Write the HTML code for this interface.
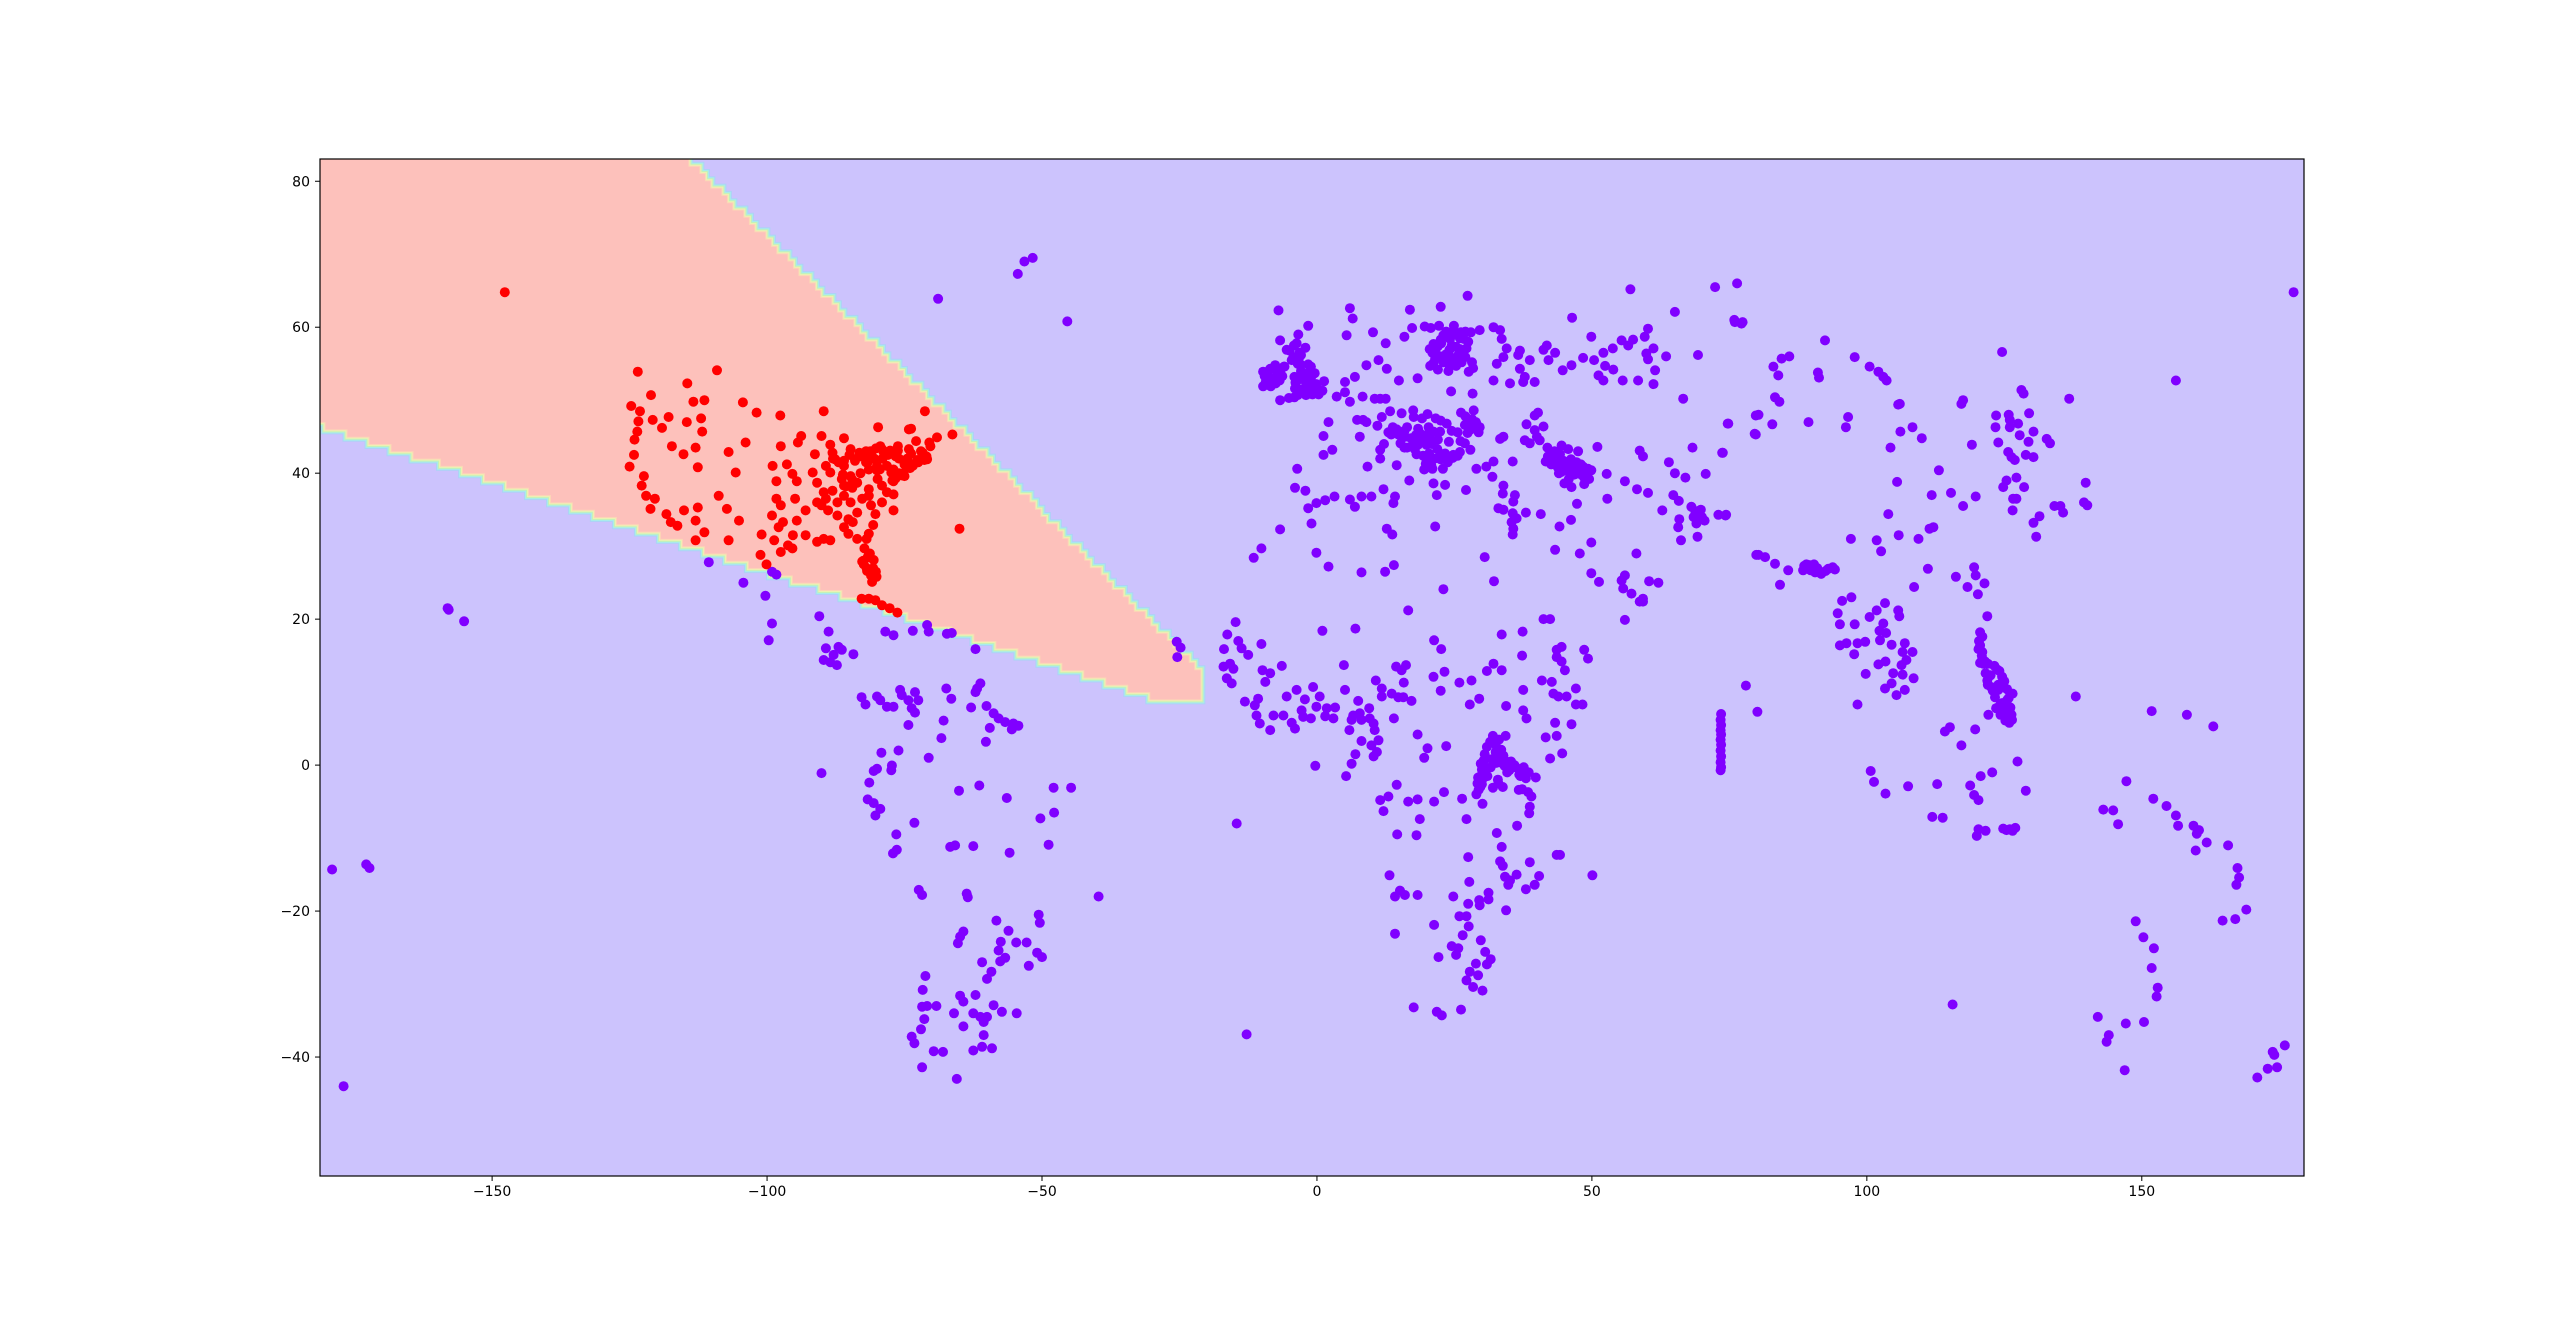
<!DOCTYPE html>
<html><head><meta charset="utf-8"><title>Decision boundary scatter</title>
<style>
html,body{margin:0;padding:0;background:#fff;}
svg{display:block;}
text{font-family:"DejaVu Sans","Liberation Sans",sans-serif;font-size:14px;fill:#000;}
</style></head>
<body>
<svg id="chart" width="2560" height="1321" viewBox="0 0 2560 1321" xmlns="http://www.w3.org/2000/svg">
<defs><clipPath id="axclip"><rect x="320" y="159" width="1984" height="1017"/></clipPath></defs>
<rect x="0" y="0" width="2560" height="1321" fill="#ffffff"/>
<g id="plot" clip-path="url(#axclip)">
<rect x="320" y="159" width="1984" height="1017" fill="#ccc3fd"/>
</g>
<rect x="320" y="159" width="1984" height="1017" fill="none" stroke="#000" stroke-width="1.2"/>
<g id="xticks"></g>
<g id="yticks"></g>
</svg>
<script>
// ---- data ----
const xTicks=[-150,-100,-50,0,50,100,150];
const yTicks=[-40,-20,0,20,40,60,80];
const xDomain=[-181.3,179.5];
const yDomain=[-56.3,83.05];
const upperBoundary=[[-114.0,83.1],[-21.2,13.2]];
const lowerBoundary=[[-181.3,46.3],[-27.0,8.3]];
const regionRightLon=-21.2;
const regionFloorLat=8.3;
const redPts=[[-147.7,64.8],
[-123.5,53.9],[-109.1,54.1],[-114.5,52.3],[-121.1,50.7],[-124.7,49.2],[-113.4,49.8],[-111.4,50.0],[-104.4,49.7],[-101.9,48.3],[-97.6,47.9],[-89.7,48.5],[-71.3,48.5],[-79.8,46.3],[-74.2,46.0],[-69.1,44.9],[-66.3,45.3],
[-123.1,48.5],[-123.4,47.1],[-123.6,45.7],[-124.1,44.6],[-124.2,42.5],[-125.0,40.9],[-120.8,47.3],[-117.9,47.7],[-119.1,46.2],[-114.6,47.0],[-112.0,47.5],[-111.8,45.7],[-117.3,43.7],[-115.2,42.6],[-113.0,43.5],[-112.6,40.8],[-107.0,42.9],[-103.9,44.2],[-105.7,40.1],
[-122.4,39.6],[-122.8,38.3],[-122.0,36.9],[-120.4,36.5],[-121.2,35.1],[-118.3,34.4],[-117.5,33.3],[-116.3,32.8],[-115.1,34.9],[-112.6,35.3],[-113.0,33.5],[-111.4,31.9],[-113.0,30.8],[-108.8,36.9],[-107.3,35.1],[-105.1,33.5],[-107.0,30.8],[-101.0,31.6],[-101.2,28.8],[-100.1,27.5],
[-97.5,43.7],[-99.0,41.0],[-96.4,41.2],[-95.4,39.9],[-98.3,38.9],[-94.6,38.9],[-93.8,45.1],[-94.4,44.2],[-91.3,42.6],[-91.7,40.1],[-90.9,38.7],[-89.7,37.4],[-98.3,36.5],[-97.5,35.6],[-94.9,36.5],[-99.1,34.2],[-97.1,33.3],[-97.9,32.6],[-94.6,33.5],[-93.0,34.9],[-90.9,36.0],[-98.7,30.8],[-96.2,30.1],[-97.5,29.2],[-95.4,29.7],[-93.0,31.5],[-90.9,30.6],[-89.7,31.0],[-88.5,30.8],[-95.3,31.5],
[-90.1,45.1],[-86.0,44.8],[-88.5,43.9],[-88.1,42.8],[-89.3,41.0],[-88.5,40.1],[-86.0,41.0],[-84.8,43.3],[-84.0,41.9],[-83.2,42.8],[-81.5,41.9],[-81.5,40.5],[-79.1,43.3],[-79.5,40.5],[-78.2,41.0],[-76.6,42.3],[-76.2,43.7],[-74.2,43.3],[-72.9,44.4],[-70.5,44.2],[-71.7,42.8],[-70.9,41.9],[-74.2,41.4],[-75.0,39.6],[-77.4,40.1],[-79.9,39.2],[-77.0,38.9],[-79.1,38.3],[-78.2,37.4],[-77.0,37.1],[-81.5,37.8],[-83.6,38.7],[-84.8,39.6],[-86.4,39.2],[-86.0,38.3],[-88.1,37.6],[-89.3,36.5],[-87.2,36.0],[-86.0,36.9],[-84.8,36.0],[-82.7,36.5],[-81.5,36.9],[-83.6,34.6],[-81.1,35.6],[-80.3,34.4],[-79.1,36.0],[-77.0,34.9],[-90.1,35.6],[-88.9,34.9],[-87.2,34.2],[-85.2,33.7],[-84.4,33.3],[-86.0,32.6],[-85.2,31.7],[-83.6,31.0],[-80.7,32.9],[-81.5,31.7],[-81.9,31.0],[-82.3,29.7],[-81.5,28.8],[-82.7,27.9],[-81.9,27.0],[-81.1,26.0],[-80.7,27.0],[-73.8,46.1],[-65.0,32.4],
[-85,42.5],[-83,42.3],[-82,41.5],[-80,41],[-77,40.5],[-76,40],[-75.2,40],[-74,40.7],[-73.5,41],[-72.5,41.5],[-71,42.3],[-80,40.4],[-84.5,39.1],[-86.2,39.8],[-87.6,41.9],[-88,42],[-83,40],[-84,41.7],[-78.8,42.9],[-77.6,43.1],[-79.4,43.7],[-81,42.5],[-82,43],[-86,41.7],[-87,41.5],[-73.8,42.7],[-75.5,39.7],[-76.6,39.3],[-77.2,39],[-71.4,41.8],[-72.7,41.8],[-85.7,38.2],[-84.5,38],[-81.7,41.5],[-80.5,42],[-79,42],[-78,42.5],[-76,42],[-75,41.2],[-74.5,42],[-70.3,43.7],[-72,43],[-76.2,43.1],[-80.2,43.4],[-81.2,43],
[-82.5,28],[-81.7,28.5],[-81.3,29],[-80.2,26.5],[-80.1,25.8],[-80.3,26.2],[-81.8,26.6],[-81.4,28.5],[-82.4,27.5],[-80.6,28.1],
[-82.8,22.8],[-81.5,22.8],[-80.3,22.6],[-79.1,21.9],[-77.7,21.5],[-76.3,20.9],[-80.9,25.1]];
const purplePts=[[-157.9,21.3],[-158.1,21.5],[-155.1,19.7],[-179.1,-14.3],[-172.9,-13.6],[-172.3,-14.1],[-177,-44],[177.6,64.8],[-45.4,60.8],[-53.2,69.0],[-51.7,69.5],[-54.4,67.3],[-68.9,63.9],[-110.6,27.8],[-104.3,25.0],[-100.3,23.2],[-99.1,26.5],[-98.3,26.1],[-99.7,17.1],[-99.1,19.4],[-14.6,-8.0],[-12.8,-36.9],[-25.5,16.9],[-25.4,14.8],[-24.8,16.1],
[-90.5,20.4],[-88.8,18.3],[-89.3,16.0],[-87.0,16.2],[-86.4,15.8],[-87.9,15.1],[-89.7,14.4],[-88.5,14.1],[-87.3,13.7],[-84.3,15.2],[-78.5,18.3],[-77.0,17.8],[-73.5,18.4],[-70.9,19.2],[-70.6,18.3],[-67.3,18.0],[-66.4,18.1],[-62.1,15.9],[-82.8,9.3],[-82.1,8.3],[-80.0,9.4],[-79.4,8.9],[-78.2,8.0],[-77.0,8.0],[-75.8,10.3],[-75.5,9.6],[-74.3,8.9],[-73.1,10.0],[-72.5,8.9],[-73.7,7.8],[-73.1,7.2],[-74.3,5.5],[-67.4,10.5],[-66.5,9.1],[-61.8,10.5],[-61.2,11.2],[-62.1,10.0],[-62.9,7.9],[-60.1,8.1],[-58.8,7.1],[-57.9,6.4],[-56.7,5.9],[-55.2,5.7],[-54.3,5.4],[-55.5,4.9],[-59.5,5.1],[-60.2,3.2],[-67.9,6.1],[-68.3,3.7],[-70.6,1.0],[-79.2,1.7],[-76.1,2.0],[-80.0,-0.5],[-80.6,-0.8],[-77.3,-0.05],[-77.4,-0.7],[-81.4,-2.4],[-90.1,-1.1],[-81.7,-4.7],[-80.6,-5.2],[-79.4,-6.0],[-80.3,-6.9],[-73.2,-7.9],[-76.5,-9.5],[-76.4,-11.6],[-77.1,-12.1],[-66.7,-11.2],[-65.8,-11.0],[-62.5,-11.1],[-55.9,-12.0],[-65.1,-3.5],[-61.4,-2.8],[-56.4,-4.5],[-47.9,-3.1],[-44.7,-3.1],[-50.3,-7.3],[-47.8,-6.5],[-48.8,-10.9],[-39.7,-18.0],[-72.4,-17.1],[-71.8,-17.8],[-63.7,-17.6],[-63.5,-18.1],[-58.3,-21.3],[-50.6,-20.5],[-50.4,-21.6],[-56.1,-22.7],[-64.3,-22.8],[-64.9,-23.5],[-65.3,-24.4],[-57.5,-24.2],[-54.7,-24.3],[-52.8,-24.3],[-57.9,-25.4],[-56.7,-26.4],[-57.6,-26.9],[-50.9,-25.7],[-50.0,-26.3],[-52.4,-27.5],[-60.9,-27.0],[-59.2,-28.3],[-60.0,-29.3],[-71.2,-28.9],[-71.7,-30.8],[-71.8,-33.1],[-70.9,-33.0],[-69.2,-33.0],[-71.4,-34.8],[-72.0,-36.2],[-73.7,-37.2],[-73.2,-38.1],[-64.9,-31.6],[-62.1,-31.5],[-64.3,-32.4],[-66.0,-34.0],[-62.5,-34.0],[-61.2,-34.5],[-60.0,-34.5],[-60.6,-35.2],[-58.8,-32.9],[-57.3,-33.8],[-54.6,-34.0],[-64.3,-35.8],[-60.6,-37.0],[-60.9,-38.6],[-59.1,-38.8],[-62.5,-39.1],[-69.7,-39.2],[-68.0,-39.3],[-71.8,-41.4],[-65.5,-43.0],
[-14.8,19.6],[-16.3,17.9],[-16.9,15.9],[-14.3,17.0],[-13.7,16.0],[-12.5,15.1],[-10.1,16.6],[-17.0,13.5],[-15.8,13.9],[-15.2,13.2],[-16.4,11.9],[-15.5,11.2],[-9.9,13.0],[-8.5,12.6],[-9.4,11.4],[-6.4,13.6],[-13.1,8.7],[-10.7,9.1],[-11.3,8.2],[-11.0,6.8],[-10.4,5.7],[-8.5,4.8],[-7.9,6.8],[-6.1,6.8],[-4.6,5.8],[-4.0,5.0],[-5.5,9.4],[-3.7,10.3],[-2.2,9.0],[-0.7,10.7],[0.5,9.4],[-0.1,8.0],[-2.8,7.5],[-2.5,6.6],[-1.1,6.4],[1.8,7.8],[3.3,7.9],[1.5,6.7],[3.0,6.4],[1.0,18.4],[7.0,18.7],[4.9,13.7],[5.1,10.3],[7.5,8.8],[9.5,7.8],[6.6,6.8],[7.8,7.1],[6.3,6.2],[8.1,6.2],[5.9,4.8],[9.6,6.4],[10.3,5.7],[10.5,4.8],[11.2,3.4],[9.9,2.7],[10.9,1.8],[10.3,1.2],[8.1,3.3],[7.0,1.5],[6.3,0.2],[5.3,-1.5],[-0.3,-0.1],[10.7,11.6],[11.8,10.5],[11.8,9.4],[13.6,9.8],[14.8,9.3],[15.7,9.3],[17.2,8.8],[14.4,13.5],[15.4,13.0],[16.2,13.7],[15.8,11.3],[14.0,6.4],[16.6,21.2],[21.3,17.1],[22.6,15.9],[21.2,12.1],[23.2,12.8],[22.5,10.2],[18.3,4.2],[20.1,2.3],[19.5,1.0],[23.5,2.6],[25.9,11.3],[28.1,11.6],[27.8,8.3],[29.5,9.1],[30.9,12.9],[32.1,13.9],[33.6,13.0],[33.6,17.9],[37.4,18.3],[37.3,15.0],[41.2,20.0],[42.4,20.0],[56.0,19.9],[58.7,22.4],[59.3,22.4],[37.5,10.3],[37.5,7.5],[38.1,6.4],[34.4,8.1],[40.9,11.6],[42.7,11.4],[43.6,15.8],[44.5,16.2],[43.6,14.8],[44.5,14.2],[45.1,13.0],[48.6,15.8],[49.3,14.6],[43.0,9.8],[43.9,9.4],[45.4,9.4],[47.1,10.5],[47.1,8.3],[48.3,8.3],[43.3,5.8],[46.3,5.6],[41.6,3.8],[43.6,4.0],[42.4,0.9],[44.6,1.6],
[39.8,-1.7],[38.4,-3.7],[39.0,-4.3],[38.7,-5.7],[38.6,-6.6],[32.0,-3.1],[33.8,-3.0],[30.1,-5.3],[36.4,-8.3],[32.7,-9.3],[33.6,-11.2],[27.2,-7.4],[26.4,-4.6],[23.1,-3.7],[21.3,-5.0],[18.3,-4.7],[16.6,-5.0],[14.5,-2.7],[13.0,-4.3],[11.5,-4.8],[12.1,-6.3],[18.7,-7.4],[14.6,-9.5],[18.1,-9.6],[27.5,-12.6],[33.3,-13.2],[33.8,-13.8],[38.7,-13.3],[43.6,-12.3],[44.2,-12.3],[50.1,-15.1],[40.4,-15.2],[39.6,-16.4],[38.0,-17.0],[34.2,-15.3],[35.1,-15.8],[36.3,-15.0],[34.8,-16.4],[27.7,-16.0],[13.2,-15.1],[15.1,-17.2],[16.0,-17.8],[14.2,-18.0],[18.3,-17.8],[24.8,-18.0],[27.5,-19.0],[29.5,-18.5],[29.6,-19.2],[31.2,-17.5],[31.2,-18.4],[34.4,-19.9],[25.9,-20.7],[27.2,-20.7],[27.6,-22.1],[26.5,-23.3],[21.3,-21.9],[14.2,-23.1],[29.8,-24.0],[24.5,-24.8],[25.7,-25.1],[25.3,-26.0],[22.1,-26.3],[30.6,-25.6],[31.6,-26.6],[30.9,-27.3],[28.9,-27.2],[27.8,-28.3],[29.3,-28.8],[27.2,-29.5],[28.4,-30.4],[30.1,-30.9],[17.6,-33.2],[21.8,-33.8],[22.7,-34.3],[26.2,-33.5],
[29.3,-1.7],[29.6,-1.9],[29.2,-2.5],[29.9,-1.4],[30.1,-1.9],[29.4,-3.4],[29.0,-4.0],[29.7,-3.0],[30.0,-0.6],[30.3,0.6],[30.5,1.5],[30.9,2.5],[31.5,3.2],[32.0,4.0],[32.5,3.5],[32.6,0.3],[32.3,0.4],[32.9,0.6],[33.2,0.4],[31.8,0.8],[32.5,1.8],[33.5,2.1],[33.9,1.3],[34.2,0.6],[34.8,0.2],[34.1,-0.1],[35.3,0.5],[35.9,0.0],[36.8,-1.3],[36.9,-1.1],[37.2,-0.5],[37.0,-1.5],[37.6,-0.3],[36.1,-0.3],[35.0,-0.7],[34.6,-1.0],[36.7,-3.4],[37.3,-3.3],[38.0,-1.8],[38.5,-1.0],[33.0,-2.5],[32.9,-2.0],[31.6,-0.3],[30.6,-0.3],[29.8,0.2],[30.0,-2.6],[31.0,-1.5],[32.5,2.8],[33.1,3.5],[34.3,4.0],
[-7.0,62.3],[-6.7,58.2],[-3.4,59.0],[-1.6,60.2],[-3.7,57.8],[-5.5,56.9],[-6.7,50.0],[-9.8,53.9],
[-9.5,53.3],[-9.0,53.9],[-8.5,54.3],[-8.0,53.0],[-7.5,52.3],[-8.5,52.0],[-9.3,52.5],[-6.3,53.3],[-6.8,52.7],[-7.6,54.8],[-6.0,54.6],[-7.2,53.6],[-9.8,51.9],[-8.4,51.9],[-6.6,54.2],
[-4.2,57.5],[-3.2,56.5],[-4.3,55.9],[-3.2,55.9],[-2.1,57.2],[-2.9,56.2],[-4.6,55.5],[-3.0,54.9],[-1.6,54.9],[-2.9,54.0],[-1.5,53.8],[-2.2,53.5],[-3.0,53.4],[-1.1,53.0],[-1.5,52.4],[-2.0,52.5],[-0.1,52.2],[1.3,52.6],[-0.1,51.5],[-0.5,51.3],[0.5,51.4],[1.0,51.3],[-1.3,51.7],[-2.6,51.5],[-3.2,51.5],[-4.0,51.6],[-1.4,50.9],[-2.0,50.7],[-3.5,50.7],[-4.1,50.4],[-5.1,50.3],[-0.8,50.8],[0.3,50.8],[-1.8,51.1],[-3.9,52.4],[-3.0,52.9],[-4.1,53.2],[-0.4,53.7],[-1.1,54.6],[-5.9,54.6],[-3.5,55.0],[-5.0,56.8],
[6.0,62.6],[6.5,61.2],[5.4,58.9],[10.2,59.3],[12.5,57.8],[16.9,62.4],[22.5,62.8],[27.4,64.3],[15.9,58.7],[17.3,59.9],[19.6,60.1],
[20.5,57.0],[21.0,56.5],[21.5,55.7],[22.0,57.4],[22.5,58.3],[23.0,58.9],[23.5,59.4],[24.7,59.4],[25.5,59.0],[26.7,58.4],[27.5,58.0],[26.0,58.5],[24.1,56.9],[24.5,57.5],[25.3,57.3],[26.5,56.5],[27.0,55.9],[25.3,54.7],[24.0,54.9],[23.9,54.0],[25.0,55.5],[22.5,56.0],[21.2,55.1],[23.5,56.3],[24.2,58.4],[26.0,57.0],[27.6,53.9],[28.2,55.2],[28.4,54.4],[20.6,54.7],[22.0,54.2],[26.3,55.2],[23.0,55.2],[25.7,56.2],[27.2,57.1],[24.5,55.8],[21.6,57.0],[22.6,57.8],[28.0,59.3],[27.0,59.4],[26.2,59.3],[20.7,59.9],[22.2,60.2],[24.9,60.2],[21.2,57.7],
[29.6,59.6],[32.1,60.0],[33.3,59.6],[33.6,58.4],[34.5,57.1],[33.9,55.9],[32.7,55.0],[32.1,52.7],[35.1,52.3],[36.9,56.8],[36.6,56.2],[38.7,55.5],[36.9,54.3],[37.8,53.2],[37.5,52.5],[39.6,52.5],[41.2,56.9],[41.8,57.5],[43.3,56.5],[42.1,55.5],[44.7,54.1],[46.3,54.8],[48.4,55.8],[49.9,58.7],[46.4,61.3],[50.4,55.5],[52.1,56.5],[53.8,57.1],[52.4,54.7],[53.9,54.2],[51.2,53.4],[52.1,52.7],[55.6,52.7],[55.4,58.2],[56.6,57.5],[57.5,58.3],[60.2,59.8],[59.6,58.7],[61.2,57.1],[59.9,56.4],[60.2,55.6],[58.4,52.7],[61.2,52.2],[61.5,54.1],[63.5,56.0],[65.1,62.1],[69.3,56.2],[57.0,65.2],[72.4,65.5],[76.4,66.0],[75.9,61.0],[77.4,60.7],[66.6,50.2],
[3.6,50.5],[5.1,51.1],[6.0,49.8],[6.9,53.2],[5.1,52.5],[9.0,54.8],[11.2,55.5],[12.7,54.3],[14.9,52.7],[18.3,53.0],[24.4,51.2],[28.3,50.9],[8.3,50.5],[10.5,50.2],[11.5,50.2],[12.5,50.2],[2.1,47.0],[1.2,45.1],[1.2,42.5],[2.8,43.2],[-3.6,40.6],[-4.0,38.0],[-2.1,37.6],[-6.7,32.3],[-10.1,29.7],[-11.5,28.4],[-0.1,29.1],[2.1,27.2],[8.1,26.4],[12.4,26.5],[14.0,27.4],[23.0,24.1],[32.2,25.2],[30.5,28.5],[-1.6,35.2],[-0.1,35.9],[1.5,36.3],[3.2,36.8],[-1.0,33.1],[6.0,36.4],[6.9,35.4],[8.1,36.8],[9.9,36.8],[12.1,37.8],[14.2,36.8],[13.9,35.9],[12.7,32.4],[13.7,31.6],[21.5,32.7],[9.2,40.9],[11.5,42.0],[14.5,41.1],[16.8,39.0],[21.2,38.6],[23.3,38.4],[21.8,37.0],[27.1,37.7],[7.8,45.0],[11.0,46.5],[11.5,43.2],[12.2,44.0],[7.3,47.3],[8.4,47.3],[9.0,47.0],[11.8,47.7],[13.3,48.5],[15.4,48.2],[17.5,48.6],[22.4,45.7],[26.9,44.1],[26.0,42.9],[24.8,42.5],
[13.0,45.6],[13.5,45.3],[14.5,46.0],[14.8,45.3],[15.9,45.8],[16.4,46.3],[15.2,44.1],[15.9,43.5],[16.4,43.5],[17.1,44.8],[18.4,43.9],[18.1,42.6],[18.7,45.5],[19.0,44.5],[19.3,42.4],[19.8,45.2],[20.5,44.8],[20.9,44.0],[21.4,42.0],[21.9,43.3],[22.3,42.3],[20.8,41.1],[19.8,41.3],[19.5,40.5],[20.2,41.7],[21.0,40.6],[22.9,40.6],[23.3,42.7],[24.7,42.1],[25.6,42.4],[23.8,41.5],[22.5,41.9],[20.4,42.7],[17.8,43.3],[19.9,43.9],[21.2,45.7],[22.0,44.6],[18.0,45.2],[17.5,44.3],[16.0,45.0],[19.1,47.5],[17.6,47.7],[21.6,47.5],[22.5,47.2],[23.6,46.8],[24.5,45.8],[26.1,44.4],[27.6,47.2],[28.9,47.0],[25.6,45.6],[24.0,44.3],[27.9,43.2],[13.8,46.3],[20.3,46.3],[18.4,46.1],[20.1,48.1],
[26.2,48.3],[27.0,47.8],[28.5,48.6],[29.0,46.8],[29.6,46.3],[28.0,46.0],[27.4,45.5],[26.9,46.6],[28.2,47.4],[29.4,45.6],
[33.3,44.7],[33.9,45.0],[32.1,41.6],[30.8,40.9],[29.0,40.6],[35.6,41.6],[31.9,39.5],[33.9,38.3],[33.8,37.2],[36.0,37.0],[35.7,36.1],[33.0,35.2],[33.9,35.0],[35.6,34.5],[36.3,33.8],[35.4,33.3],[35.7,32.4],[35.6,31.6],[38.0,34.6],[40.7,34.4],[38.1,46.7],[39.6,47.9],[40.2,48.3],[41.2,46.4],[39.6,45.9],[40.0,45.0],[37.8,44.5],[38.7,44.1],[40.5,44.5],
[41.6,41.6],[42.0,42.3],[42.7,42.2],[43.5,42.0],[44.8,41.7],[45.2,41.2],[44.5,40.2],[45.5,40.5],[46.4,40.7],[47.0,40.3],[47.5,40.6],[48.4,40.9],[49.9,40.4],[49.0,40.0],[48.5,39.5],[46.8,39.8],[45.8,39.2],[44.0,40.0],[43.8,40.8],[42.6,41.2],[46.2,41.9],[47.2,41.5],[48.0,41.2],[49.3,40.6],[45.0,38.6],[46.3,38.1],[44.2,42.6],[43.2,43.0],[45.7,43.3],[47.5,43.0],[41.9,43.5],[48.6,38.5],[49.5,39.2],[47.8,39.9],[44.8,40.9],[46.0,40.0],
[44.5,43.8],[51.0,43.6],[52.7,39.9],[47.3,35.8],[46.2,33.6],[44.1,32.7],[52.8,36.5],[49.9,30.5],[43.3,29.5],[47.8,29.0],[56.0,38.9],[58.2,37.8],[60.2,37.3],[58.7,43.1],[59.3,42.3],[64.0,41.5],[65.1,40.0],[67.0,39.4],[70.7,39.9],[68.3,43.5],[73.7,42.8],[74.7,46.8],[79.8,47.9],[79.6,45.4],[64.8,37.0],[65.8,36.2],[62.8,34.9],[65.9,33.7],[65.7,32.6],[66.2,30.8],[69.2,31.3],[68.1,35.4],[68.8,34.8],[69.3,34.5],[70.0,34.0],[70.5,33.5],[69.0,33.1],[68.5,34.0],[69.8,35.0],[73.0,34.3],[74.4,34.3],[79.9,28.8],[58.1,29.0],[49.9,26.3],[51.3,25.1],[55.4,25.3],[56.0,26.0],[55.7,24.2],[57.2,23.5],[59.3,22.8],[60.4,25.2],[62.1,25.0],
[76.0,60.7],[77.2,60.5],[92.4,58.2],[97.8,55.9],[100.5,54.6],[102.1,53.9],[103.0,53.2],[103.6,52.7],[83.0,54.6],[84.5,55.7],[85.9,56.0],[83.9,53.4],[91.1,53.8],[91.3,53.1],[83.3,50.4],[84.1,49.8],[80.3,48.0],[74.8,46.8],[73.8,42.8],[82.8,46.7],[79.8,45.3],[89.4,47.0],[96.6,47.7],[96.2,46.3],[106.0,49.5],[105.7,49.4],[106.1,45.7],[108.3,46.3],[110.0,44.8],[104.3,43.5],[117.5,50.0],[117.2,49.5],[124.6,56.6],[128.1,51.4],[128.5,50.9],[136.8,50.2],
[123.5,47.9],[123.4,46.3],[125.8,48.0],[126.0,47.3],[126.0,46.3],[127.5,46.8],[129.5,48.2],[127.8,45.2],[130.3,45.7],[129.4,44.3],[123.9,44.2],[132.7,44.7],[133.3,44.1],[125.7,42.9],[126.3,42.2],[128.9,42.5],[130.3,42.2],[126.9,41.8],
[119.1,43.9],[113.1,40.4],[105.5,38.8],[111.8,37.0],[115.3,37.3],[117.5,35.5],[119.8,36.8],[125.4,39.0],[124.8,38.1],[127.2,39.4],[128.6,38.1],[126.6,36.5],[127.2,36.5],[126.5,34.9],[130.3,33.2],[131.4,34.1],[130.8,31.3],[134.1,35.5],[135.7,34.6],[135.2,35.5],[139.8,38.7],[139.5,36.0],[140.1,35.6],
[103.9,34.4],[97.1,31.0],[101.8,30.8],[102.6,29.3],[105.8,31.5],[109.4,31.0],[111.4,32.4],[112.1,32.6],[111.1,26.9],[116.2,25.8],[118.3,24.4],[120.2,23.4],[119.5,27.1],[119.8,26.0],[121.4,24.9],[108.6,24.4],[121.9,20.4],[74.3,34.2],[80.3,28.8],[81.5,28.5],[83.3,27.6],[85.7,26.7],[84.2,24.7],
[88.6,27.3],[89.0,27.5],[89.6,27.4],[90.4,27.5],[90.0,26.9],[91.0,27.0],[91.7,26.2],[92.5,26.6],[93.0,26.9],[93.8,27.1],[94.2,26.8],[89.8,26.7],[90.6,26.4],[88.4,26.7],
[95.5,22.5],[97.2,23.0],[94.7,20.8],[95.1,19.3],[100.5,20.3],[101.8,21.2],[103.3,22.2],[105.7,21.2],[105.9,20.4],[97.8,19.3],[103.0,19.4],[102.3,18.4],[103.5,18.1],[95.1,16.4],[96.3,16.7],[98.3,16.7],[99.7,16.9],[97.7,15.2],[102.4,17.1],
[104.5,16.5],[106.9,16.7],[108.3,15.5],[106.5,15.5],[107.2,14.4],[106.3,13.7],[102.1,13.8],[103.4,14.2],[104.8,12.6],[106.5,12.4],[108.5,11.9],[106.9,10.3],[105.4,9.6],[103.3,10.5],[104.5,11.2],[99.8,12.5],
[78.0,10.9],[80.1,7.3],[98.3,8.3],[73.5,7.0],[73.4,6.2],[73.5,5.5],[73.4,4.8],[73.5,4.2],[73.4,3.5],[73.5,2.8],[73.4,2.0],[73.5,1.2],[73.4,0.4],[73.5,-0.3],[73.4,-0.7],
[120.6,18.2],[121.0,17.6],[120.4,17.0],[120.6,16.4],[120.3,15.9],[121.0,15.5],[120.9,15.0],[121.0,14.6],[121.1,14.4],[121.5,14.2],[121.2,13.9],[122.0,13.9],[123.2,13.6],[123.7,13.1],[124.1,12.9],[122.5,12.3],[121.9,11.6],[122.6,10.7],[123.9,10.3],[124.0,10.6],[124.8,11.2],[125.0,11.5],[124.6,12.1],[125.5,10.4],[123.3,9.3],[122.9,10.2],[124.6,8.5],[125.5,8.9],[125.6,7.1],[126.1,7.9],[126.3,6.9],[125.2,6.1],[124.3,6.9],[122.1,6.9],[123.5,7.8],[126.5,9.8],[125.8,9.2],[124.2,8.2],[125.1,7.6],[123.9,11.0],[122.0,11.0],[121.6,12.6],[120.6,14.0],[125.3,6.7],[126.0,7.4],[125.9,5.8],[126.4,6.2],
[138.0,9.4],[114.2,4.6],[115.1,5.2],[117.2,2.7],[119.7,4.9],[127.4,0.5],[147.2,-2.2],[143.0,-6.1],[144.8,-6.2],[145.7,-8.1],[100.7,-0.8],[101.3,-2.3],[103.4,-3.9],[107.5,-2.9],[112.8,-2.6],[118.8,-2.8],[120.7,-1.5],[122.8,-1.0],[119.5,-4.1],[120.3,-4.8],[128.9,-3.5],[111.9,-7.1],[113.8,-7.2],[120.3,-8.8],[121.6,-9.0],[120.0,-9.7],[124.8,-8.7],[125.4,-8.9],[126.0,-8.8],[126.5,-9.0],[127.0,-8.6],
[115.6,-32.8],[152.1,-4.6],[154.5,-5.6],[156.2,-6.9],[156.6,-8.3],[159.4,-8.3],[160.4,-8.9],[160.0,-9.4],[161.8,-10.6],[159.8,-11.7],[165.7,-11.0],[167.4,-14.1],[167.7,-15.4],[167.2,-16.4],[169.0,-19.8],[167.0,-21.1],[164.7,-21.3],[148.9,-21.4],[150.3,-23.6],[152.2,-25.1],[151.8,-27.8],[152.9,-30.5],[152.7,-31.7],[142.0,-34.5],[147.1,-35.4],[150.4,-35.2],[144.0,-37.0],[143.6,-37.9],[146.9,-41.8],[176.0,-38.4],[173.8,-39.3],[174.1,-39.7],[172.9,-41.6],[174.6,-41.4],[171.0,-42.8],
[151.8,7.4],[158.2,6.9],[163.0,5.3],[156.2,52.7]];

// ---- scales ----
const L=320,R=2304,T=159,B=1176;
const NS='http://www.w3.org/2000/svg';
function sx(lon){return L+(lon-xDomain[0])*(R-L)/(xDomain[1]-xDomain[0]);}
function sy(lat){return T+(yDomain[1]-lat)*(B-T)/(yDomain[1]-yDomain[0]);}
function lineAt(seg,lon){const a=seg[0],b=seg[1];return a[1]+(b[1]-a[1])*(lon-a[0])/(b[0]-a[0]);}
function mk(tag,attrs,parent){const e=document.createElementNS(NS,tag);for(const k in attrs)e.setAttribute(k,attrs[k]);parent.appendChild(e);return e;}

const plot=document.getElementById('plot');
// decision region (staircase from a 1-degree mesh)
const step=1.0;
const topPts=[],botPts=[];
for(let lonA=xDomain[0];lonA<regionRightLon;lonA+=step){
  const lonB=Math.min(lonA+step,regionRightLon);
  const mid=(lonA+lonB)/2;
  let up=Math.floor(lineAt(upperBoundary,mid));
  up=Math.min(up,yDomain[1]+3);
  let lo=Math.ceil(Math.max(lineAt(lowerBoundary,mid),regionFloorLat));
  if(up<=lo) continue;
  topPts.push([sx(lonA),sy(up)],[sx(lonB),sy(up)]);
  botPts.push([sx(lonA),sy(lo)],[sx(lonB),sy(lo)]);
}
botPts.reverse();
const poly=topPts.concat(botPts).map(p=>p[0].toFixed(1)+','+p[1].toFixed(1)).join(' ');
const bandCols=['#aed2f6','#a9ecec','#c4f2b8','#ecf2b4','#fcd6b6'];
const bandW=[10,8,6,4,2];
for(let i=0;i<bandCols.length;i++){
  const b=mk('polygon',{points:poly,fill:'none',stroke:bandCols[i],'stroke-width':bandW[i],'stroke-linejoin':'miter'},plot);
  
  
}
const region=mk('polygon',{points:poly,fill:'#fdc1bb',stroke:'none'},plot);



// points
const gP=mk('g',{},plot);


for(const p of purplePts){
  const c=mk('circle',{cx:sx(p[0]).toFixed(1),cy:sy(p[1]).toFixed(1),r:5,fill:'#8000ff'},gP);
  
  
}
const gR=mk('g',{},plot);


for(const p of redPts){
  const c=mk('circle',{cx:sx(p[0]).toFixed(1),cy:sy(p[1]).toFixed(1),r:5,fill:'#ff0000'},gR);
  
  
}

// axes ticks
const gx=document.getElementById('xticks');
for(const v of xTicks){
  const x=sx(v);
  const t=mk('line',{x1:x,x2:x,y1:B,y2:B+5,stroke:'#000','stroke-width':1},gx);
  
  
  const lb=mk('text',{x:x,y:B+20,'text-anchor':'middle'},gx);
  lb.textContent=(v<0?'\u2212'+Math.abs(v):String(v));
  
  
}
const gy=document.getElementById('yticks');
for(const v of yTicks){
  const y=sy(v);
  const t=mk('line',{x1:L-5,x2:L,y1:y,y2:y,stroke:'#000','stroke-width':1},gy);
  
  
  const lb=mk('text',{x:L-10,y:y+5,'text-anchor':'end'},gy);
  lb.textContent=(v<0?'\u2212'+Math.abs(v):String(v));
  
  
}
</script>
</body></html>
